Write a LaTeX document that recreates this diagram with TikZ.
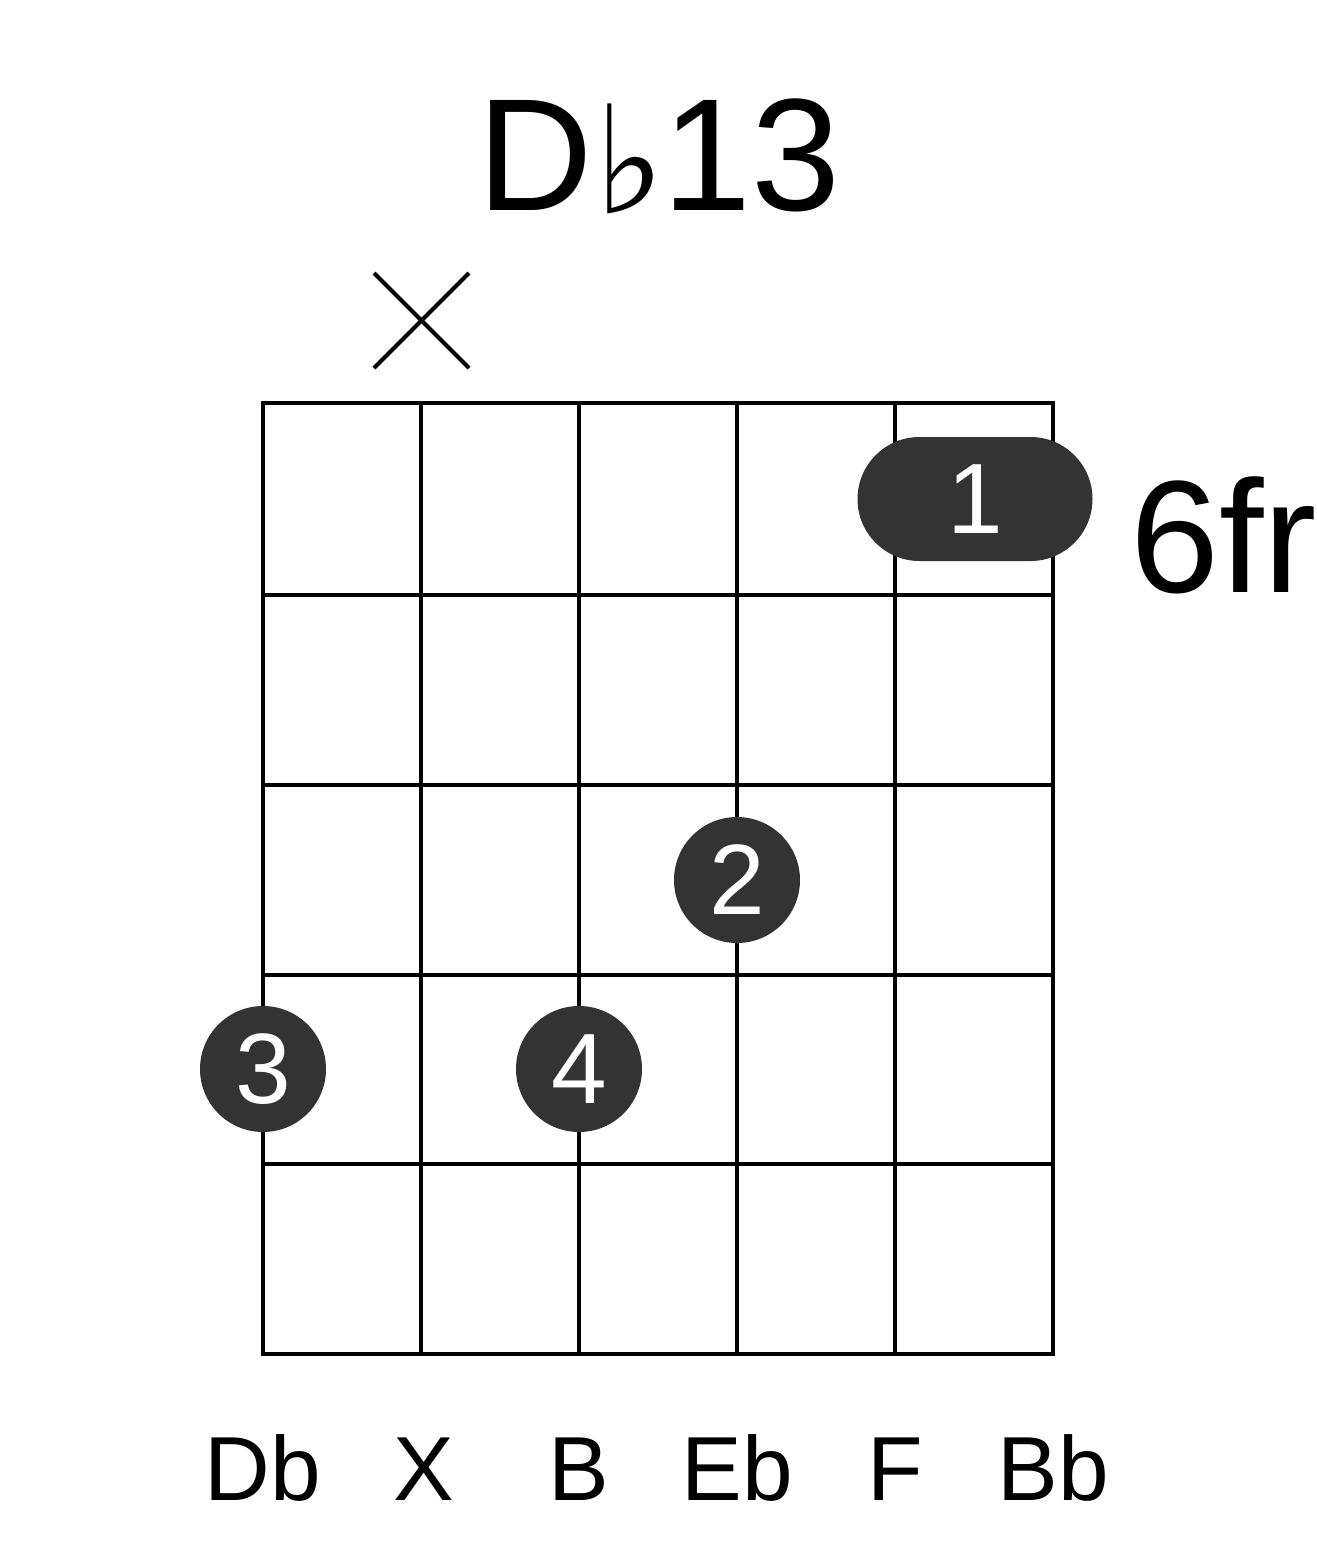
\documentclass[tikz,border=0pt]{standalone}
\usepackage{fontspec}
\setmainfont{Liberation Sans}
\newfontfamily\symfont{DejaVu Sans}
\definecolor{dotgray}{HTML}{333333}
\tikzset{
  gridline/.style={line width=4pt, black},
  fingerdot/.style={circle, fill=dotgray, minimum size=126pt, inner sep=0pt, text=white, font=\fontsize{100}{100}\selectfont},
  barrebox/.style={rounded corners=62pt, fill=dotgray, minimum width=235pt, minimum height=124pt, inner sep=0pt, text=white, font=\fontsize{100}{100}\selectfont},
  notelabel/.style={anchor=base, font=\fontsize{91}{91}\selectfont},
  mutemark/.style={line width=4pt}
}
\begin{document}
\begin{tikzpicture}[x=1pt,y=-1pt]
\useasboundingbox (0,0) rectangle (1317,1551);
% grid
\foreach \i/\x in {1/263,2/421,3/579,4/737,5/895,6/1053}{
  \draw[gridline] (\x,403) -- (\x,1354);
}
\foreach \y in {403,595,785,975,1164,1354}{
  \draw[gridline] (261,\y) -- (1055,\y);
}
% title
\node[anchor=base west, inner sep=0pt] (title) at (477,210) {\fontsize{160}{160}\selectfont D\hspace{2pt}{\symfont\fontsize{150}{150}\selectfont\raisebox{-3pt}{♭}}\hspace{-3pt}13};
% mute mark
\coordinate (m1) at (374,273);
\coordinate (m2) at (469,368);
\coordinate (m3) at (469,273);
\coordinate (m4) at (374,368);
\draw[mutemark] (m1) -- (m2);
\draw[mutemark] (m3) -- (m4);
% barre
\node[barrebox] (f1) at (975,499) {1};
% fret label
\node[anchor=base west, inner sep=0pt, font=\fontsize{160}{160}\selectfont] (fr) at (1130,592) {6fr};
% dots
\node[fingerdot] (f2) at (737,880) {2};
\node[fingerdot] (f3) at (263,1069) {3};
\node[fingerdot] (f4) at (579,1069) {4};
% note labels
\node[notelabel] (n1) at (263,1500) {Db};
\node[notelabel] (n2) at (424,1500) {X};
\node[notelabel] (n3) at (579,1500) {B};
\node[notelabel] (n4) at (737,1500) {Eb};
\node[notelabel] (n5) at (895,1500) {F};
\node[notelabel] (n6) at (1053,1500) {Bb};
\end{tikzpicture}
\end{document}
